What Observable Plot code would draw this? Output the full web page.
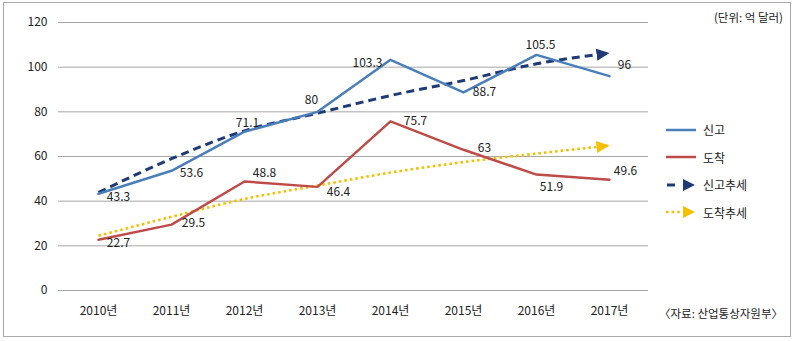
<!DOCTYPE html>
<html><head><meta charset="utf-8">
<script src="https://cdn.jsdelivr.net/npm/d3@7"></script>
<script src="https://cdn.jsdelivr.net/npm/@observablehq/plot@0.6"></script>
<style>
html,body{margin:0;padding:0;background:#fff;}
#wrap{position:relative;width:795px;height:341px;font-family:"Noto Sans CJK KR","Noto Sans",sans-serif;color:#222;}
#frame{position:absolute;left:3px;top:2px;width:786px;height:333px;border:1px solid #a9a9a9;pointer-events:none;}
#chart{position:absolute;left:0;top:0;}
.note{position:absolute;font-size:11.5px;white-space:nowrap;}
#legend{position:absolute;left:664px;top:116px;font-size:12px;}
#legend .row{height:27.5px;display:flex;align-items:center;}
#legend svg{margin-right:6px;}
</style></head>
<body><div id="wrap"><div id="chart"></div><div id="frame"></div>
<div class="note" style="right:12px;top:9px;">(단위: 억 달러)</div>
<div class="note" style="right:12px;top:305px;">〈자료: 산업통상자원부〉</div>
<div id="legend"></div>
</div>
<script>
const years = ["2010년","2011년","2012년","2013년","2014년","2015년","2016년","2017년"];
const singo = [43.3,53.6,71.1,80,103.3,88.7,105.5,96];
const dochak = [22.7,29.5,48.8,46.4,75.7,63,51.9,49.6];
const singoTrend = [43.9,59,71.5,79.4,87.3,94,101.5,106.3];
const dochakTrend = [24.5,33,41,47,52.8,57.5,61.3,64.9];
const yTicks = [0,20,40,60,80,100,120];
const seriesNames = ["신고","도착","신고추세","도착추세"];

const C = {blue:"#4a7ebb", red:"#be4b48", navy:"#1f3a75", yellow:"#f5c000"};
const rows = (vals) => years.map((y,i)=>({year:y, v:vals[i]}));
const sRows = rows(singo), dRows = rows(dochak), stRows = rows(singoTrend), dtRows = rows(dochakTrend);

// label placement offsets (index, dx, dy)
const singoPlace = [[0,20,3],[1,20,2],[2,3,-9],[3,-6,-12],[4,-23,3],[5,21,0],[6,4,-10],[7,15,-11]];
const dochakPlace = [[0,20,3],[1,22,-1],[2,20,-8],[3,21,5],[4,25,0],[5,21,-2],[6,15,13],[7,16,-9]];
const labelMarks = (data, place) => place.map(([i,dx,dy]) =>
  Plot.text([data[i]], {x:"year", y:"v", text:d=>String(d.v), dx, dy, fill:"#222", fontSize:12}));

const svg = Plot.plot({
  width:795, height:341,
  marginLeft:58, marginRight:147, marginTop:22, marginBottom:51,
  style:{fontFamily:'"Noto Sans CJK KR","Noto Sans",sans-serif', fontSize:"12px", color:"#222", background:"transparent"},
  x:{type:"point", domain:years, padding:0.5, tickSize:0, tickPadding:16, label:null},
  y:{domain:[0,120], ticks:yTicks, tickSize:0, tickPadding:11, label:null},
  marks:[
    Plot.ruleY(yTicks, {stroke:"#a6a6a6", strokeWidth:1}),
    Plot.line(stRows, {x:"year", y:"v", stroke:C.navy, strokeWidth:3, strokeDasharray:"8,5", strokeLinecap:"butt", curve:"monotone-x", className:"trend-a"}),
    Plot.line(dtRows, {x:"year", y:"v", stroke:C.yellow, strokeWidth:2.6, strokeDasharray:"2.6,3", strokeLinecap:"butt", curve:"monotone-x", className:"trend-b"}),
    Plot.line(sRows, {x:"year", y:"v", stroke:C.blue, strokeWidth:2.5}),
    Plot.line(dRows, {x:"year", y:"v", stroke:C.red, strokeWidth:2.5}),
    ...labelMarks(sRows, singoPlace),
    ...labelMarks(dRows, dochakPlace)
  ]
});

// arrowhead markers for trend lines
const ns = "http://www.w3.org/2000/svg";
const defs = document.createElementNS(ns,"defs");
function addMarker(id, color){
  const m = document.createElementNS(ns,"marker");
  m.setAttribute("id",id); m.setAttribute("viewBox","0 0 10 10");
  m.setAttribute("refX","10"); m.setAttribute("refY","5");
  m.setAttribute("markerWidth","13"); m.setAttribute("markerHeight","12");
  m.setAttribute("markerUnits","userSpaceOnUse"); m.setAttribute("orient","auto");
  m.setAttribute("preserveAspectRatio","none");
  const p = document.createElementNS(ns,"path");
  p.setAttribute("d","M0,0L10,5L0,10Z"); p.setAttribute("fill",color);
  p.setAttribute("stroke","none");
  m.appendChild(p); defs.appendChild(m);
}
addMarker("arrA", C.navy); addMarker("arrB", C.yellow);
svg.insertBefore(defs, svg.firstChild);
svg.querySelectorAll('.trend-a path').forEach(p=>p.setAttribute("marker-end","url(#arrA)"));
svg.querySelectorAll('.trend-b path').forEach(p=>p.setAttribute("marker-end","url(#arrB)"));
document.getElementById("chart").appendChild(svg);

// legend
const sw = {
  "신고": `<svg width="33" height="10"><line x1="2" x2="32" y1="5" y2="5" stroke="${C.blue}" stroke-width="2.5"/></svg>`,
  "도착": `<svg width="33" height="10"><line x1="2" x2="32" y1="5" y2="5" stroke="${C.red}" stroke-width="2.5"/></svg>`,
  "신고추세": `<svg width="33" height="14"><line x1="3" x2="11" y1="7" y2="7" stroke="${C.navy}" stroke-width="3"/><path d="M19,1L31,7L19,13Z" fill="${C.navy}"/></svg>`,
  "도착추세": `<svg width="33" height="14"><line x1="2" x2="18" y1="7" y2="7" stroke="${C.yellow}" stroke-width="2.6" stroke-dasharray="2.6,3"/><path d="M19,1L31,7L19,13Z" fill="${C.yellow}"/></svg>`
};
document.getElementById("legend").innerHTML = seriesNames.map(n=>`<div class="row">${sw[n]}<span>${n}</span></div>`).join("");
</script></body></html>
